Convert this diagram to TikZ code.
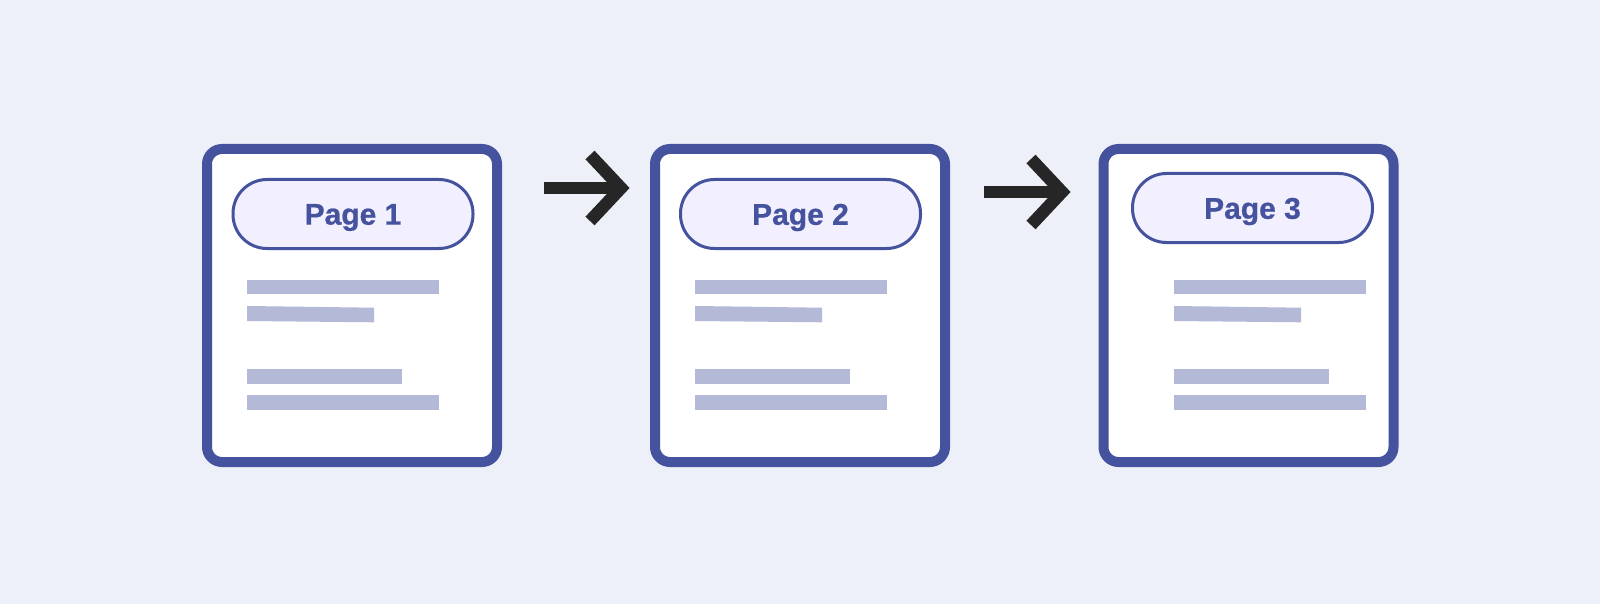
\documentclass[tikz,border=0pt]{standalone}
\usepackage{fontspec}
\setmainfont{Liberation Sans}
\newfontfamily\pillfont[FakeBold=0.7]{Liberation Sans}
\definecolor{bg}{HTML}{EEF0F9}
\definecolor{frame}{HTML}{45529E}
\definecolor{pillfill}{HTML}{F2F0FE}
\definecolor{bar}{HTML}{B4B9D8}
\definecolor{arrowc}{HTML}{262626}
\tikzset{
  pageframe/.style={draw=frame, line width=10pt, fill=white, rounded corners=15pt, minimum width=290pt, minimum height=313pt, inner sep=0pt},
  pill/.style={draw=frame, line width=3pt, fill=pillfill, rounded corners=34pt, minimum width=240pt, minimum height=69pt, inner sep=0pt},
  pilltext/.style={text=frame, font=\pillfont\bfseries\fontsize{30}{36}\selectfont, inner sep=0pt},
  barfill/.style={fill=bar},
  shaft/.style={draw=arrowc, line width=12.5pt},
  chevron/.style={draw=arrowc, line width=12.5pt, miter limit=10},
}
\begin{document}
\begin{tikzpicture}[x=1pt,y=-1pt]
\fill[bg] (0,0) rectangle (1600,604);
\useasboundingbox (0,0) rectangle (1600,604);
% pages
\node[pageframe] (p1) at (352,305.5) {};
\node[pageframe] (p2) at (800,305.5) {};
\node[pageframe] (p3) at (1248.5,305.5) {};
% pills
\node[pill] (l1) at (353,214) {};
\node[pill] (l2) at (800.5,214) {};
\node[pill] (l3) at (1252.5,208) {};
\node[pilltext] (t1) at ([yshift=-3.5pt]l1.center) {Page 1};
\node[pilltext] (t2) at ([yshift=-3.5pt]l2.center) {Page 2};
\node[pilltext] (t3) at ([yshift=-3.5pt]l3.center) {Page 3};
% bars
\foreach \dx/\nm in {0/a,448/b,927/c}{
  \fill[barfill] (247+\dx,280) rectangle (439+\dx,294);
  \fill[barfill] (247+\dx,306) -- (374+\dx,307.7) -- (374+\dx,322.3) -- (247+\dx,321) -- cycle;
  \fill[barfill] (247+\dx,369) rectangle (402+\dx,384);
  \fill[barfill] (247+\dx,395) rectangle (439+\dx,410);
}
% arrows
\coordinate (a1s) at (544,188);
\coordinate (a1t) at (621,188);
\coordinate (a2s) at (984,192);
\coordinate (a2t) at (1062,192);
\draw[shaft] (a1s) -- ([xshift=-6pt]a1t);
\draw[chevron] ([shift={(-31,-33)}]a1t) -- (a1t) -- ([shift={(-31,33)}]a1t);
\draw[shaft] (a2s) -- ([xshift=-6pt]a2t);
\draw[chevron] ([shift={(-31,-33)}]a2t) -- (a2t) -- ([shift={(-31,33)}]a2t);
\end{tikzpicture}
\end{document}
